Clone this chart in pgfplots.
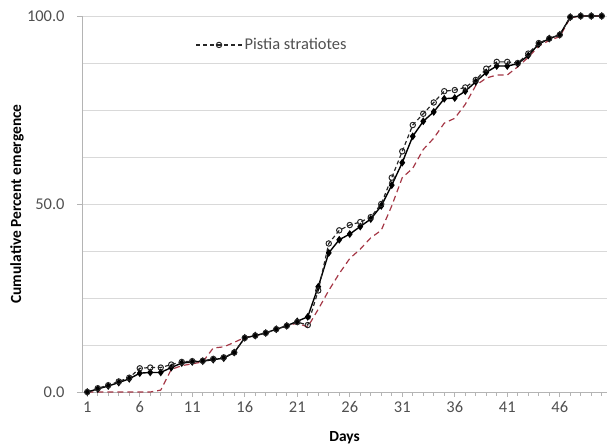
\documentclass[border=0pt]{standalone}
\usepackage{fontspec}
\setmainfont{Carlito}
\usepackage{pgfplots}
\usepackage{pgfplotstable}
\pgfplotsset{compat=1.18}
\definecolor{gridgray}{RGB}{217,217,217}
\definecolor{axgray}{RGB}{180,180,180}
\definecolor{txtgray}{RGB}{80,80,80}
\definecolor{darkred}{RGB}{165,55,70}

% day, A = Pistia stratiotes (dashed, open circles), B = solid, C = red dashed
\pgfplotstableread{
day A B C
1 0 0 0
2 1.0 0.8 0
3 1.8 1.6 0
4 2.8 2.5 0
5 3.8 3.5 0
6 6.3 5.0 0
7 6.5 5.2 0
8 6.5 5.2 0.5
9 7.3 6.5 6.0
10 8.0 7.7 7.0
11 8.2 8.0 7.5
12 8.3 8.2 8.0
13 8.8 8.6 11.7
14 9.2 9.0 12.0
15 10.5 10.5 13.2
16 14.4 14.4 14.5
17 15.0 15.0 15.0
18 15.7 15.7 15.7
19 16.7 16.7 16.7
20 17.6 17.6 17.6
21 18.6 18.8 18.3
22 17.8 20.0 17.3
23 27.0 28.0 22.0
24 39.5 37.0 27.0
25 43.0 40.5 31.5
26 44.4 42.0 35.5
27 45.2 44.0 38.0
28 46.5 46.0 41.0
29 50.0 49.5 43.0
30 57.0 55.0 49.5
31 64.0 61.0 57.0
32 71.0 68.0 59.5
33 74.0 72.0 64.5
34 77.0 74.5 67.5
35 80.0 78.0 71.5
36 80.3 78.2 72.8
37 81.0 80.0 76.5
38 83.0 82.5 81.5
39 86.0 85.0 83.5
40 87.8 86.7 84.3
41 87.8 86.7 84.3
42 87.5 87.3 86.5
43 90.0 89.5 89.0
44 92.8 92.5 92.0
45 94.0 94.0 93.5
46 95.0 95.0 94.5
47 99.7 99.7 99.5
48 100 100 100
49 100 100 100
50 100 100 100
}\emergence

\begin{document}
\begin{tikzpicture}
\path[use as bounding box] (0,0) rectangle (610bp,448bp);
\begin{axis}[
    at={(82bp,56bp)}, anchor=south west,
    scale only axis,
    width=525bp, height=376bp,
    xmin=0.5, xmax=50.5,
    ymin=0, ymax=100,
    xtick={1,6,...,46},
    minor xtick={1,...,50},
    ytick={0,50,100},
    minor ytick={12.5,25,37.5,62.5,75,87.5},
    yticklabels={0.0,50.0,100.0},
    ymajorgrids, yminorgrids,
    major grid style={gridgray, line width=0.8pt},
    minor grid style={gridgray, line width=0.8pt},
    axis x line*=bottom, axis y line*=left,
    axis line style={axgray, line width=0.8pt},
    every tick/.style={axgray, line width=0.6pt},
    tick align=outside,
    major tick length=5bp, minor tick length=4bp,
    minor y tick style={draw=none},
    /pgf/number format/assume math mode=true,
    tick label style={font=\fontsize{16.5}{19}\selectfont, text=txtgray},
    xticklabel style={yshift=-1bp},
    yticklabel style={xshift=-9bp},
    xlabel={\textbf{Days}},
    ylabel={\textbf{Cumulative Percent emergence}},
    label style={font=\fontsize{15.5}{18}\selectfont, text=black},
    ylabel style={at={(rel axis cs:-0.124,0.5)}, anchor=center},
    xlabel style={at={(rel axis cs:0.5,-0.122)}, anchor=center},
    legend style={at={(rel axis cs:0.21,0.923)}, anchor=west, draw=none, fill=none,
        font=\fontsize{16.5}{19}\selectfont, text=txtgray},
    legend image code/.code={\draw[mark repeat=2,mark phase=2,#1] plot coordinates {(0bp,0bp) (23bp,0bp) (46bp,0bp)};},
    clip=false,
]
\addplot[darkred, line width=1.2pt, dash pattern=on 6bp off 4bp, forget plot]
    table[x=day, y=C] {\emergence};
\addplot[black, line width=1.4pt, mark=diamond*, mark size=2.8bp, forget plot]
    table[x=day, y=B] {\emergence};
\addplot[black!85, line width=1.2pt, dash pattern=on 4bp off 3bp, mark=o, mark size=2.7bp,
    mark options={solid, fill=white, line width=1pt}]
    table[x=day, y=A] {\emergence};
\addlegendentry{Pistia stratiotes}
\end{axis}
\end{tikzpicture}
\end{document}
